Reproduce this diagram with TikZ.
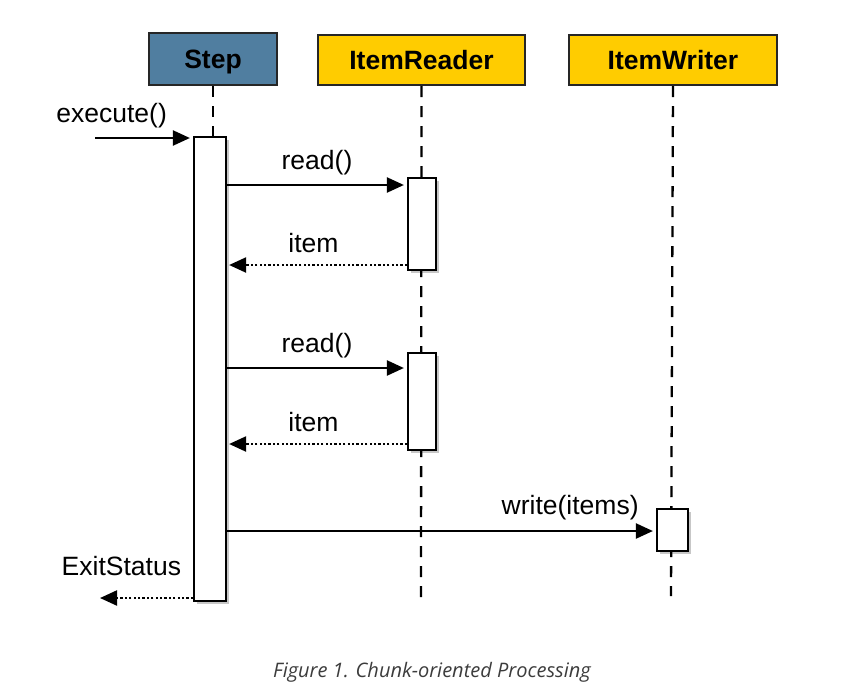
\documentclass[tikz,border=0pt]{standalone}
\usepackage{fontspec}
\setmainfont{Liberation Sans}
\newfontfamily\capfont{Open Sans}
\usetikzlibrary{arrows.meta,shadows}
\definecolor{stepblue}{RGB}{80,126,160}
\definecolor{roleyellow}{RGB}{255,204,0}
\definecolor{capgray}{RGB}{60,60,60}
\tikzset{
	head/.style={draw=black!85, line width=2.4pt, font=\fontsize{26.5}{30}\selectfont\bfseries, inner sep=0pt, text height=19pt, text depth=0pt},
	act/.style={draw=black, line width=2.2pt, fill=white, inner sep=0pt, drop shadow={shadow xshift=3pt, shadow yshift=-3pt, opacity=0.22, fill=black}},
	life/.style={line width=2.3pt, dash pattern=on 11pt off 9pt},
	msg/.style={line width=2.2pt, -{Triangle[length=17pt, width=15pt]}},
	reply/.style={line width=2.2pt, dash pattern=on 2.2pt off 2.2pt, -{Triangle[length=17pt, width=15pt]}},
	lbl/.style={font=\fontsize{26.5}{30}\selectfont, inner sep=0pt}
}

\begin{document}
\begin{tikzpicture}[x=1pt, y=-1pt]
			%%%%% START %%%%%
			\useasboundingbox (0, 0) rectangle (861, 689);
			
			\node[head, fill=stepblue, minimum width=128pt, minimum height=52pt] (step) at (213, 59) {Step};
			\node[head, fill=roleyellow, minimum width=207pt, minimum height=50pt] (reader) at (421.5, 60) {ItemReader};
			\node[head, fill=roleyellow, minimum width=208pt, minimum height=50pt] (writer) at (673, 60) {ItemWriter};
			
			% lifelines
			\coordinate (readerEnd) at (421, 606);
			\coordinate (writerEnd) at (671, 596);
			\draw[life] (step.south) -- ++(0, 52);
			\draw[life] (reader.south) -- (readerEnd);
			\draw[life] (writer.south) -- (writerEnd);
			
			% activations
			\node[act, minimum width=32pt, minimum height=464pt] (stepAct) at (210, 369) {};
			\node[act, minimum width=28pt, minimum height=92pt] (readAct1) at (422, 224) {};
			\node[act, minimum width=28pt, minimum height=97pt] (readAct2) at (422, 401.5) {};
			\node[act, minimum width=31pt, minimum height=42pt] (writeAct) at (672.5, 530) {};
			
			% calls
			\coordinate (caller) at (95, 138);
			\draw[msg, shorten >=3pt] (caller) -- (caller -| stepAct.west) node[lbl, above=9pt, pos=0.17] {execute()};
			
			\draw[msg, shorten >=3pt] (stepAct.east |- 0, 185) -- (readAct1.west |- 0, 185) node[lbl, above=9pt, midway] {read()};
			\draw[reply, shorten >=2pt] (readAct1.west |- 0, 265) -- (stepAct.east |- 0, 265) node[lbl, above=11pt, pos=0.52] {item};
			
			\draw[msg, shorten >=3pt] (stepAct.east |- 0, 368) -- (readAct2.west |- 0, 368) node[lbl, above=9pt, midway] {read()};
			\draw[reply, shorten >=2pt] (readAct2.west |- 0, 444) -- (stepAct.east |- 0, 444) node[lbl, above=11pt, pos=0.52] {item};
			
			\draw[msg, shorten >=3pt] (stepAct.east |- 0, 531) -- (writeAct.west |- 0, 531) node[lbl, above=10pt, pos=0.80] {write(items)};
			
			\coordinate (exitEnd) at (100, 598);
			\draw[reply] (stepAct.west |- exitEnd) -- (exitEnd) node[lbl, above=21pt, pos=0.77] {ExitStatus};
			
			% caption
			\node[font=\capfont\itshape\fontsize{20}{24}\selectfont, text=capgray] (caption) at (432, 672) {Figure 1. Chunk-oriented Processing};
			%%%%% END %%%%%
\end{tikzpicture}
\end{document}
